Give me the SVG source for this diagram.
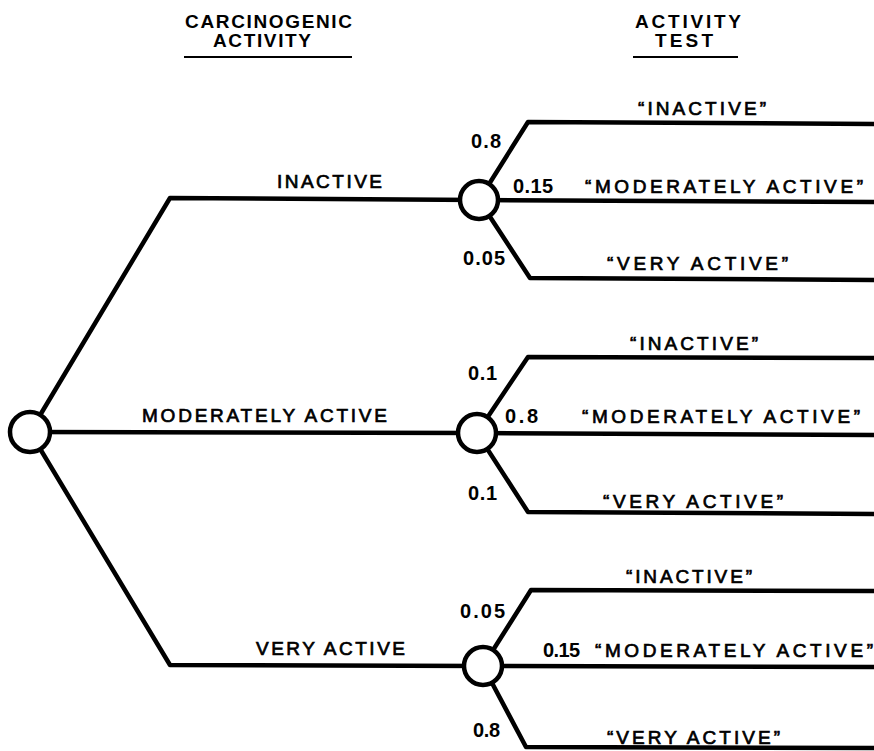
<svg xmlns="http://www.w3.org/2000/svg" width="874" height="751" viewBox="0 0 874 751">
  <style>
    .edge { fill: none; stroke: #000; stroke-width: 4.5; stroke-linejoin: round; }
    .node { fill: #fff; stroke: #000; stroke-width: 4.5; }
    .rule { stroke: #000; stroke-width: 2; }
    text { font-family: "Liberation Sans", Arial, sans-serif; font-size: 19px; fill: #000; }
    .head { font-weight: bold; font-size: 19px; }
    .lbl { stroke: #000; stroke-width: 0.7; }
    .num { font-weight: bold; font-size: 20px; }
  </style>
  <rect width="874" height="751" fill="#fff"/>

  <!-- column headings -->
  <g id="headings">
    <text class="head" x="185" y="28" textLength="167" lengthAdjust="spacing">CARCINOGENIC</text>
    <text class="head" x="213" y="47" textLength="98" lengthAdjust="spacing">ACTIVITY</text>
    <line class="rule" x1="184" y1="57" x2="352" y2="57"/>
    <text class="head" x="635" y="28" textLength="106" lengthAdjust="spacing">ACTIVITY</text>
    <text class="head" x="655" y="47" textLength="58" lengthAdjust="spacing">TEST</text>
    <line class="rule" x1="633" y1="57" x2="738" y2="57"/>
  </g>

  <!-- branches -->
  <g id="connectors">
    <path class="edge" d="M30,432 L170,198 L479,200"/>
    <path class="edge" d="M30,432 L477,433"/>
    <path class="edge" d="M30,432 L170,665 L483,666"/>

    <path class="edge" d="M479,200 L528,122 L874,124"/>
    <path class="edge" d="M479,200 L874,202"/>
    <path class="edge" d="M479,200 L530,278 L874,280"/>

    <path class="edge" d="M477,433 L528,357 L874,358"/>
    <path class="edge" d="M477,433 L874,435"/>
    <path class="edge" d="M477,433 L528,512 L874,514"/>

    <path class="edge" d="M483,666 L531,590 L874,591"/>
    <path class="edge" d="M483,666 L874,667"/>
    <path class="edge" d="M483,666 L526,747 L874,748"/>
  </g>

  <!-- branch labels: carcinogenic activity -->
  <g id="activity-labels">
    <text class="lbl" x="277" y="188" textLength="105" lengthAdjust="spacing">INACTIVE</text>
    <text class="lbl" x="142" y="422" textLength="245" lengthAdjust="spacing">MODERATELY ACTIVE</text>
    <text class="lbl" x="256" y="655" textLength="149" lengthAdjust="spacing">VERY ACTIVE</text>
  </g>

  <!-- probabilities -->
  <g id="probabilities">
    <text class="num" x="471" y="148" textLength="30" lengthAdjust="spacing">0.8</text>
    <text class="num" x="513" y="193" textLength="40" lengthAdjust="spacing">0.15</text>
    <text class="num" x="463" y="265" textLength="42" lengthAdjust="spacing">0.05</text>
    <text class="num" x="468" y="380" textLength="29" lengthAdjust="spacing">0.1</text>
    <text class="num" x="505" y="423" textLength="33" lengthAdjust="spacing">0.8</text>
    <text class="num" x="468" y="500" textLength="29" lengthAdjust="spacing">0.1</text>
    <text class="num" x="460" y="618" textLength="45" lengthAdjust="spacing">0.05</text>
    <text class="num" x="543" y="657" textLength="37" lengthAdjust="spacing">0.15</text>
    <text class="num" x="473" y="737" textLength="27" lengthAdjust="spacing">0.8</text>
  </g>

  <!-- test outcome labels -->
  <g id="test-labels">
    <text class="lbl" x="638" y="115" textLength="128" lengthAdjust="spacing">“INACTIVE”</text>
    <text class="lbl" x="585" y="193" textLength="278" lengthAdjust="spacing">“MODERATELY ACTIVE”</text>
    <text class="lbl" x="607" y="270" textLength="181" lengthAdjust="spacing">“VERY ACTIVE”</text>
    <text class="lbl" x="630" y="350" textLength="128" lengthAdjust="spacing">“INACTIVE”</text>
    <text class="lbl" x="582" y="423" textLength="278" lengthAdjust="spacing">“MODERATELY ACTIVE”</text>
    <text class="lbl" x="603" y="508" textLength="180" lengthAdjust="spacing">“VERY ACTIVE”</text>
    <text class="lbl" x="626" y="583" textLength="126" lengthAdjust="spacing">“INACTIVE”</text>
    <text class="lbl" x="595" y="657" textLength="278" lengthAdjust="spacing">“MODERATELY ACTIVE”</text>
    <text class="lbl" x="607" y="744" textLength="173" lengthAdjust="spacing">“VERY ACTIVE”</text>
  </g>

  <!-- chance nodes -->
  <g id="node-root"><circle class="node" cx="30" cy="432" r="20"/></g>
  <g id="node-inactive"><circle class="node" cx="479" cy="200" r="19"/></g>
  <g id="node-moderate"><circle class="node" cx="477" cy="433" r="19"/></g>
  <g id="node-very"><circle class="node" cx="483" cy="666" r="19"/></g>
</svg>
